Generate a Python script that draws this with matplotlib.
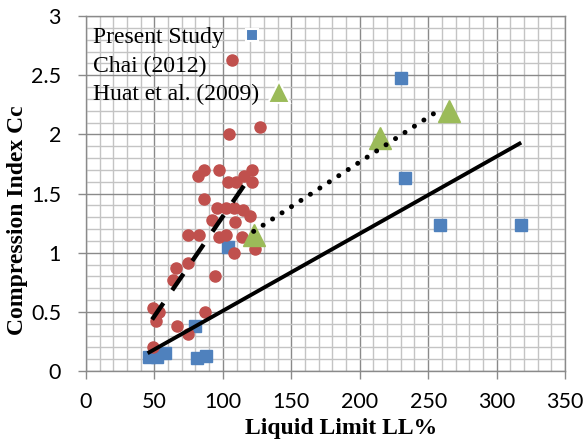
import matplotlib
matplotlib.use("Agg")
import matplotlib.pyplot as plt
import numpy as np

# ---- data ----
present_ll = [46, 52, 58, 80, 81, 88, 104, 230, 233, 258.5, 318]
present_cc = [0.12, 0.12, 0.155, 0.38, 0.11, 0.125, 1.05, 2.48, 1.63, 1.23, 1.23]

chai_ll = [81.7, 86.5, 97.0, 104.1, 109.7, 115.8, 121.1, 121.4, 86.5, 95.4,
           102.4, 108.5, 114.6, 119.5, 92.2, 109.2, 74.3, 82.4, 97.0, 102.4,
           114.1, 108.5, 123.8, 74.3, 65.8, 63.9, 93.9, 49.2, 53.6, 51.2,
           87.3, 66.3, 74.8, 48.8, 104.3, 126.8]
chai_cc = [1.65, 1.70, 1.70, 1.60, 1.60, 1.65, 1.70, 1.60, 1.45, 1.38,
           1.38, 1.38, 1.36, 1.31, 1.28, 1.26, 1.15, 1.15, 1.13, 1.15,
           1.13, 1.00, 1.03, 0.91, 0.87, 0.77, 0.80, 0.53, 0.50, 0.42,
           0.50, 0.38, 0.31, 0.205, 2.00, 2.06]

huat_ll = [122.5, 214.6, 265]
huat_cc = [1.15, 1.97, 2.20]

fit_present_ll = [45, 318]
fit_present_cc = [0.15, 1.93]
fit_chai_ll = [48.3, 119.6]
fit_chai_cc = [0.435, 1.637]
fit_huat_ll = [122.5, 260]
fit_huat_cc = [1.18, 2.22]

xticks = [0, 50, 100, 150, 200, 250, 300, 350]
yticks = [0, 0.5, 1, 1.5, 2, 2.5, 3]
ytick_labels = ["0", "0.5", "1", "1.5", "2", "2.5", "3"]
legend_labels = ["Present Study", "Chai (2012)", "Huat et al. (2009)"]

# ---- style ----
BLUE = "#4F81BD"
RED = "#C0504D"
GREEN = "#9BBB59"
MAJ = "#8A8A8A"
MIN = "#C4C4C4"
serif = ["Liberation Serif", "DejaVu Serif"]
sans = ["Lato", "DejaVu Sans"]

fig = plt.figure(figsize=(5.87, 4.41), dpi=100)
ax = fig.add_axes([86/587, 1-371/441, 479/587, 355/441])

ax.set_xlim(0, 350)
ax.set_ylim(0, 3)
ax.set_xticks(xticks)
ax.set_xticks(np.arange(0, 351, 10), minor=True)
ax.set_yticks(yticks)
ax.set_yticks(np.arange(0, 3.001, 0.1), minor=True)
ax.set_yticklabels(ytick_labels)
ax.grid(which="minor", color=MIN, lw=1.0)
ax.grid(which="major", color=MAJ, lw=1.0)
ax.set_axisbelow(True)
for s in ax.spines.values():
    s.set_color(MAJ)
    s.set_linewidth(1.0)
ax.tick_params(which="minor", length=0)
ax.tick_params(which="major", length=6, width=1.0, color=MAJ,
               labelsize=15.5)
ax.tick_params(axis="y", which="major", pad=12)
ax.tick_params(axis="x", which="major", pad=9)
for lab in ax.get_xticklabels() + ax.get_yticklabels():
    lab.set_family(sans)

# series
ax.plot(present_ll, present_cc, ls="none", marker="s", ms=8, color=BLUE,
        mec=BLUE, zorder=3)
ax.plot(chai_ll, chai_cc, ls="none", marker="o", ms=8, color=RED,
        mec=RED, zorder=4)
ax.plot(huat_ll, huat_cc, ls="none", marker="^", ms=16, color=GREEN,
        mec=GREEN, zorder=5)

ax.plot(fit_present_ll, fit_present_cc, color="black", lw=2.8,
        solid_capstyle="butt", zorder=6)
ax.plot(fit_chai_ll, fit_chai_cc, color="black", lw=3.2,
        dashes=(4.5, 3.5), dash_capstyle="butt", zorder=6)
ax.plot(fit_huat_ll, fit_huat_cc, color="black", lw=3.6,
        dashes=(0.01, 2.25), dash_capstyle="round", zorder=6)

# legend (markers placed after each label, as in the reference)
text_x = 0.0146
rows_y = [0.924, 0.842, 0.763]
for lab, ty in zip(legend_labels, rows_y):
    ax.text(text_x, ty, lab, transform=ax.transAxes, fontsize=17,
            family=serif, va="baseline", ha="left", zorder=7)
ax.plot([0.3466], [0.9465], transform=ax.transAxes, marker="s", ms=8,
        color=BLUE, mec="white", mew=1.5, ls="none", zorder=8, clip_on=False)
ax.plot([0.3048], [0.876], transform=ax.transAxes, marker="o", ms=8,
        color=RED, mec=RED, ls="none", zorder=8, clip_on=False)
ax.plot([0.4029], [0.786], transform=ax.transAxes, marker="^", ms=16,
        color=GREEN, mec="white", mew=1.5, ls="none", zorder=8, clip_on=False)

ax.set_xlabel("Liquid Limit LL%", fontsize=17, fontweight="bold",
              family=serif)
ax.set_ylabel("Compression Index Cc", fontsize=17, fontweight="bold",
              family=serif)
ax.xaxis.set_label_coords(0.532, -0.133)
ax.yaxis.set_label_coords(-0.121, 0.425)

fig.savefig("out.png", dpi=100)
